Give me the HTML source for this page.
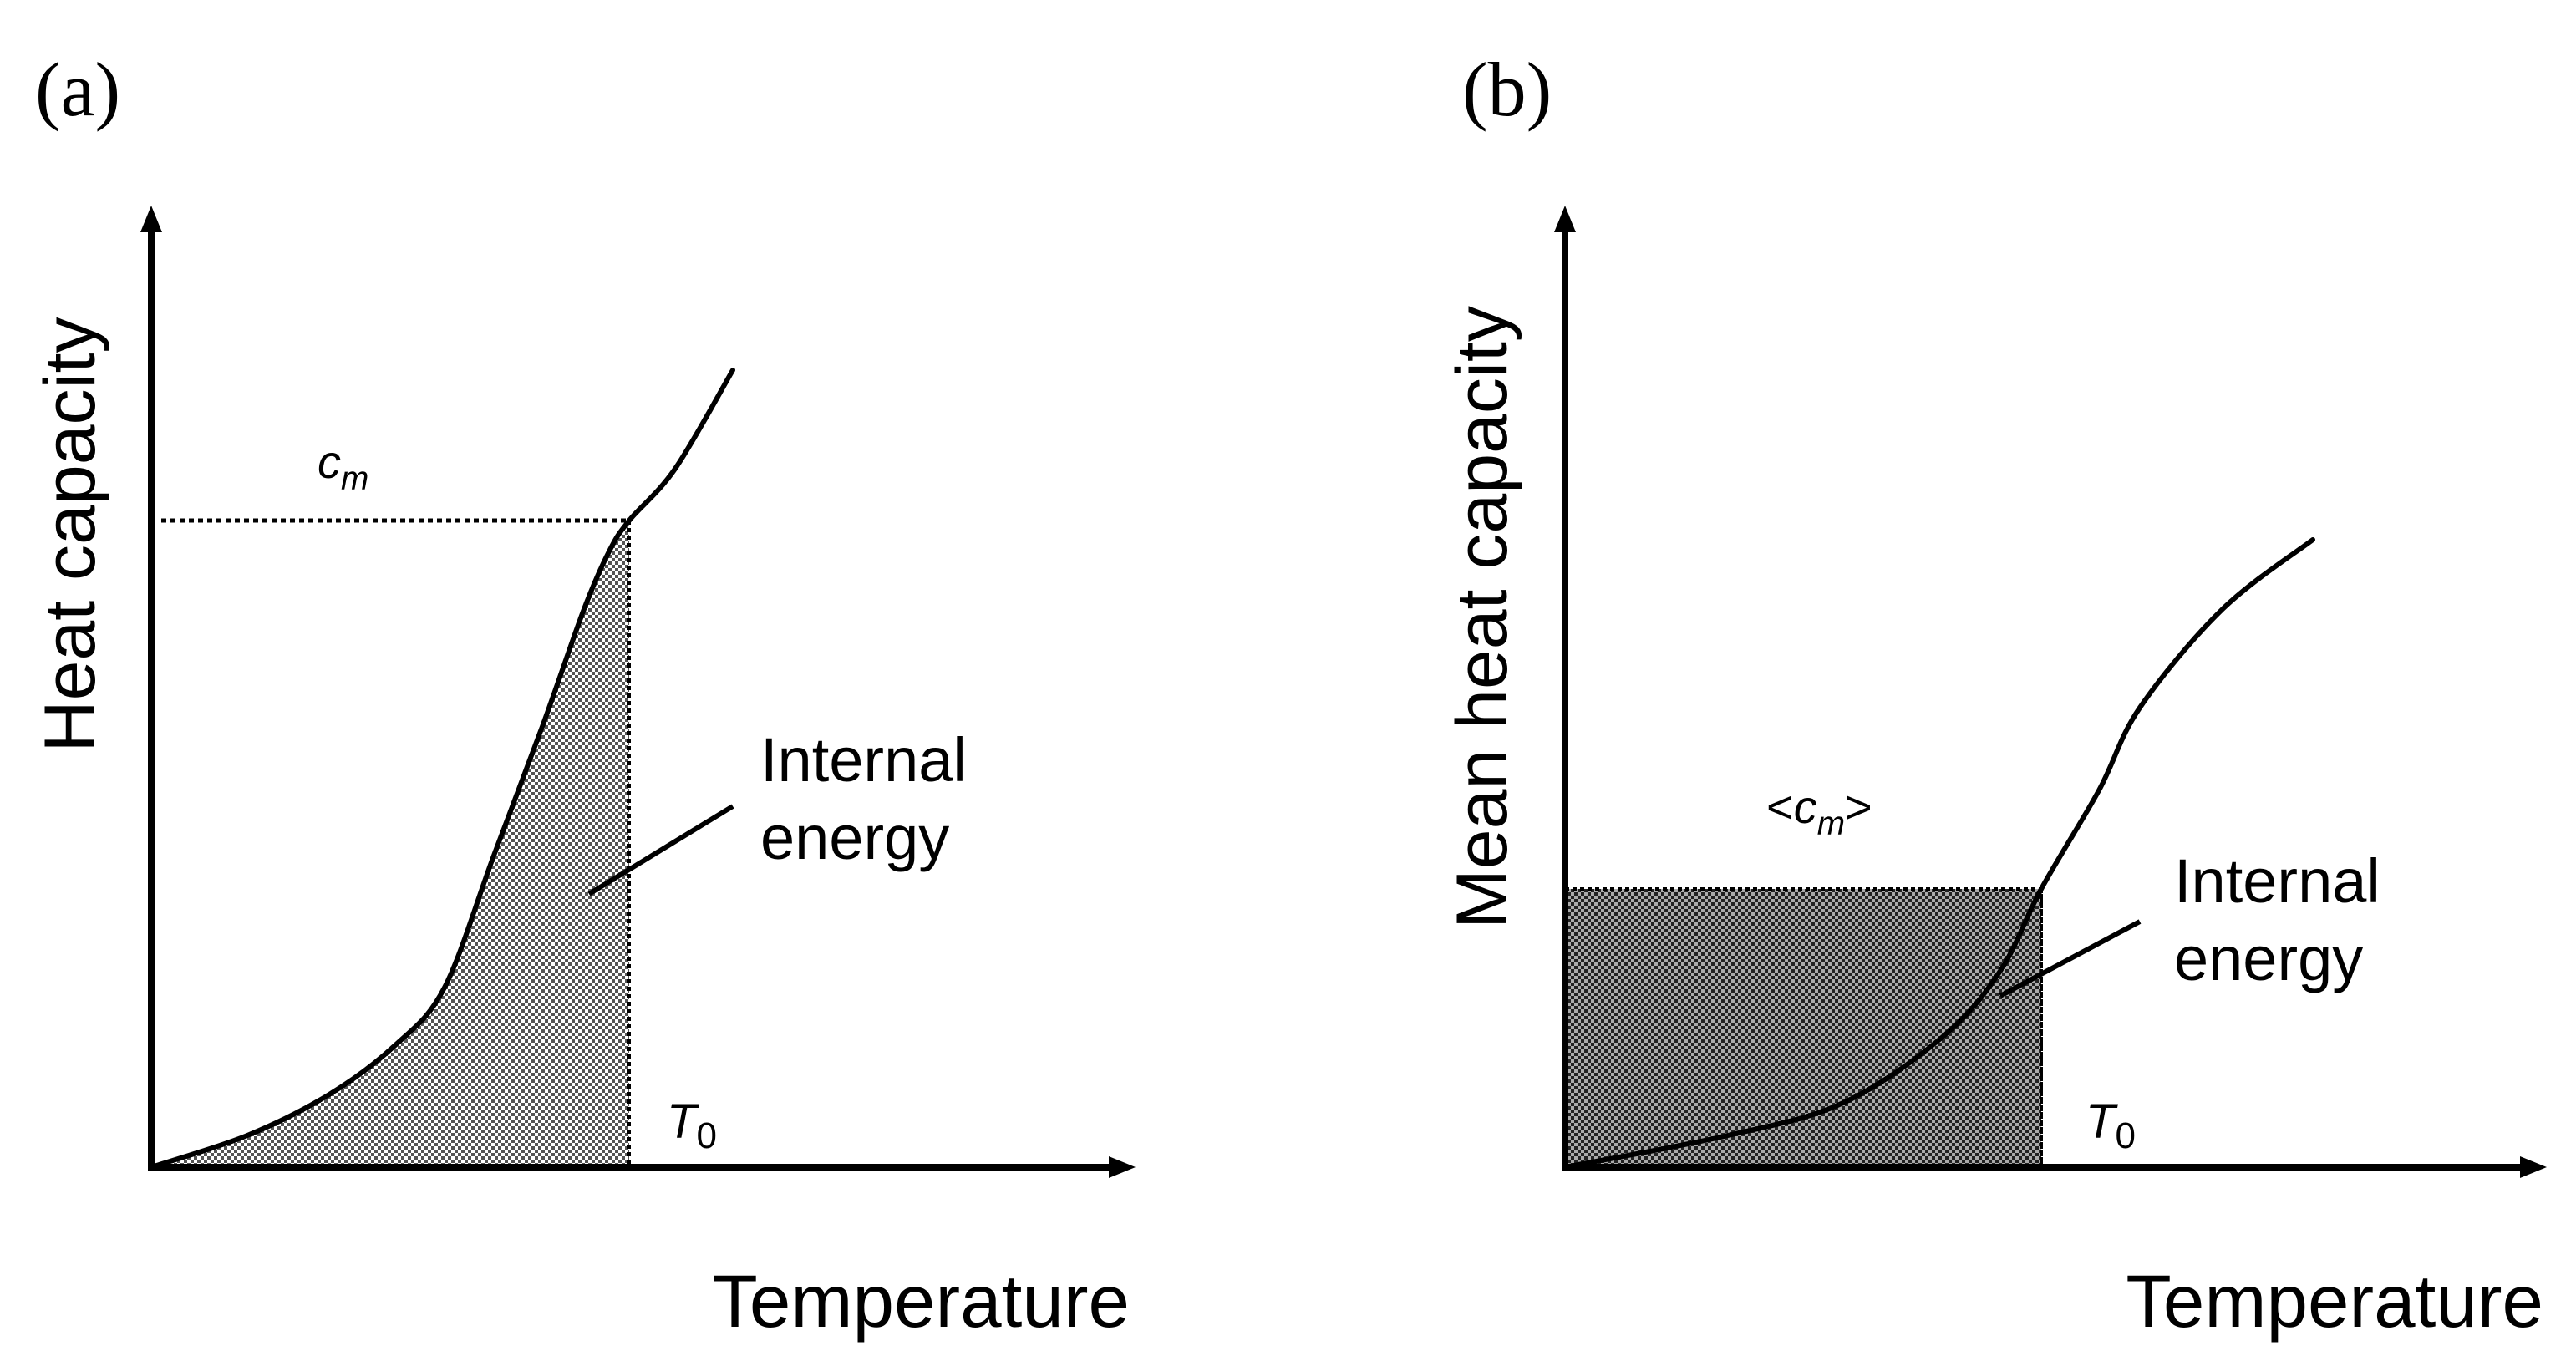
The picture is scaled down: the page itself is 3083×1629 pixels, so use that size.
<!DOCTYPE html>
<html><head><meta charset="utf-8">
<style>
html,body{margin:0;padding:0;background:#fff;}
svg{display:block;}
text{font-family:"Liberation Sans","DejaVu Sans",sans-serif;fill:#000;}
</style></head>
<body>
<svg id="fig" width="3083" height="1629" viewBox="0 0 3083 1629" xmlns="http://www.w3.org/2000/svg">
<defs>
<pattern id="hatchA" width="8" height="8" patternUnits="userSpaceOnUse">
<rect width="8" height="8" fill="#fff"/>
<rect x="0" y="0" width="4" height="4" fill="#555"/>
<rect x="4" y="4" width="4" height="4" fill="#555"/>
</pattern>
<pattern id="hatchB" width="8" height="8" patternUnits="userSpaceOnUse">
<rect width="8" height="8" fill="#aaa"/>
<rect x="0" y="0" width="4" height="4" fill="#222"/>
<rect x="4" y="4" width="4" height="4" fill="#222"/>
</pattern>
</defs>
<g id="pa"></g>
<g id="pb"></g>
</svg>
<script>
// Panel (a): heat capacity vs temperature
const tempA = [0, 11.5, 21.3, 29.2, 35.1, 41, 46.9, 51.8, 54.8, 57.2, 62.7, 69.6];
const capA  = [0, 3.8, 8.7, 14.6, 21.5, 37.3, 53, 66.8, 73.7, 77.4, 83.6, 95.4];
const t0A = 57.2;
const cmA = 77.4;
// Panel (b): mean heat capacity vs temperature
const tempB = [0, 19.5, 33.3, 45.2, 52.1, 57, 63.9, 68.8, 78.7, 89.5];
const capB  = [0, 3.8, 7.7, 15.6, 23.5, 33.3, 45.1, 55, 66.8, 75.1];
const t0B = 57;
const cmB = 33.3;

const NS = "http://www.w3.org/2000/svg";
const BASE = 1397;
function mk(parent, tag, attrs, txt){
  const e = document.createElementNS(NS, tag);
  for (const k in attrs) e.setAttribute(k, attrs[k]);
  if (txt !== undefined) e.textContent = txt;
  parent.appendChild(e);
  return e;
}
function smooth(pts){
  let d = "M" + pts[0][0] + "," + pts[0][1];
  for (let i = 0; i < pts.length - 1; i++){
    const p0 = pts[Math.max(0,i-1)], p1 = pts[i], p2 = pts[i+1], p3 = pts[Math.min(pts.length-1,i+2)];
    const c1x = p1[0] + (p2[0]-p0[0])/6, c1y = p1[1] + (p2[1]-p0[1])/6;
    const c2x = p2[0] - (p3[0]-p1[0])/6, c2y = p2[1] - (p3[1]-p1[1])/6;
    d += " C" + c1x + "," + c1y + " " + c2x + "," + c2y + " " + p2[0] + "," + p2[1];
  }
  return d;
}
function panel(g, ox, temps, caps, t0, cm, isMean, hatch, xEnd){
  const x = v => ox + v*10;
  const y = v => BASE - v*10;
  const pts = temps.map((t,i)=>[x(t), y(caps[i])]);
  const idx = temps.indexOf(t0);
  const under = pts.slice(0, idx+1);
  if (!isMean){
    const area = mk(g, "path", {d: smooth(under) + " L" + x(t0) + "," + y(0) + " Z", fill: "url(#"+hatch+")", stroke: "none"});
    
    
    const hl = mk(g, "line", {x1: x(0)+12, y1: y(cm), x2: x(t0), y2: y(cm), stroke: "#000", "stroke-width": 5, "stroke-dasharray": "6,5"});
    
    
  } else {
    const rect = mk(g, "rect", {x: x(0), y: y(cm), width: x(t0)-x(0), height: y(0)-y(cm), fill: "url(#"+hatch+")", stroke: "#000", "stroke-width": 4, "stroke-dasharray": "5,4"});
    
    
  }
  const vl = mk(g, "line", {x1: x(t0), y1: y(cm), x2: x(t0), y2: y(0), stroke: "#000", "stroke-width": 4, "stroke-dasharray": "5,4"});
  
  
  const curve = mk(g, "path", {d: smooth(pts), fill: "none", stroke: "#000", "stroke-width": 6, "stroke-linecap": "round"});
  
  
  const ya = mk(g, "line", {x1: ox, y1: BASE+3, x2: ox, y2: 275, stroke: "#000", "stroke-width": 8});
  
  
  const yh = mk(g, "polygon", {points: (ox-13)+",278 "+(ox+13)+",278 "+ox+",246", fill: "#000"});
  
  
  const xa = mk(g, "line", {x1: ox-4, y1: BASE, x2: xEnd-28, y2: BASE, stroke: "#000", "stroke-width": 8});
  
  
  const xh = mk(g, "polygon", {points: (xEnd-32)+","+(BASE-13)+" "+(xEnd-32)+","+(BASE+13)+" "+xEnd+","+BASE, fill: "#000"});
  
  
}
panel(document.getElementById('pa'), 181, tempA, capA, t0A, cmA, false, "hatchA", 1359);
panel(document.getElementById('pb'), 1873, tempB, capB, t0B, cmB, true, "hatchB", 3048);

const fig = document.getElementById('fig');
function label(txt, attrs, name, html){
  const e = document.createElementNS(NS, "text");
  for (const k in attrs) e.setAttribute(k, attrs[k]);
  if (html) e.innerHTML = html; else e.textContent = txt;
  
  
  fig.appendChild(e);
}
label("(a)", {x: 42, y: 138, "font-size": 92, style: "font-family:'Liberation Serif',serif"}, "panel-a-label");
label("(b)", {x: 1750, y: 138, "font-size": 92, style: "font-family:'Liberation Serif',serif"}, "panel-b-label");
label("Heat capacity", {x: 0, y: 0, "font-size": 86, transform: "translate(113,640) rotate(-90)", "text-anchor": "middle"}, "y-axis-title-a");
label("Mean heat capacity", {x: 0, y: 0, "font-size": 86, transform: "translate(1803,739) rotate(-90)", "text-anchor": "middle"}, "y-axis-title-b");
label("Temperature", {x: 1352, y: 1588, "font-size": 89, "text-anchor": "end"}, "x-axis-title-a");
label("Temperature", {x: 3044, y: 1588, "font-size": 89, "text-anchor": "end"}, "x-axis-title-b");
label("", {x: 380, y: 572, "font-size": 56, "font-style": "italic"}, "cm-label", 'c<tspan font-size="40" dy="14">m</tspan>');
label("", {x: 2114, y: 985, "font-size": 56}, "mean-cm-label", '&lt;<tspan font-style="italic">c</tspan><tspan font-size="40" dy="14" font-style="italic">m</tspan><tspan dy="-14">&gt;</tspan>');
label("", {x: 798, y: 1362, "font-size": 58, "font-style": "italic"}, "t0-label-a", 'T<tspan font-size="44" dy="12" font-style="normal">0</tspan>');
label("", {x: 2496, y: 1362, "font-size": 58, "font-style": "italic"}, "t0-label-b", 'T<tspan font-size="44" dy="12" font-style="normal">0</tspan>');
label("Internal", {x: 910, y: 935, "font-size": 74}, "internal-energy-label-a-line1");
label("energy", {x: 910, y: 1028, "font-size": 74}, "internal-energy-label-a-line2");
label("Internal", {x: 2602, y: 1080, "font-size": 74}, "internal-energy-label-b-line1");
label("energy", {x: 2602, y: 1173, "font-size": 74}, "internal-energy-label-b-line2");
function leader(x1,y1,x2,y2,name){
  const l = document.createElementNS(NS,"line");
  l.setAttribute('x1',x1);l.setAttribute('y1',y1);l.setAttribute('x2',x2);l.setAttribute('y2',y2);
  l.setAttribute('stroke','#000');l.setAttribute('stroke-width',6);
  
  
  fig.appendChild(l);
}
leader(877,965,705,1070,"leader-line-a");
leader(2561,1103,2394,1192,"leader-line-b");
</script>
</body></html>
